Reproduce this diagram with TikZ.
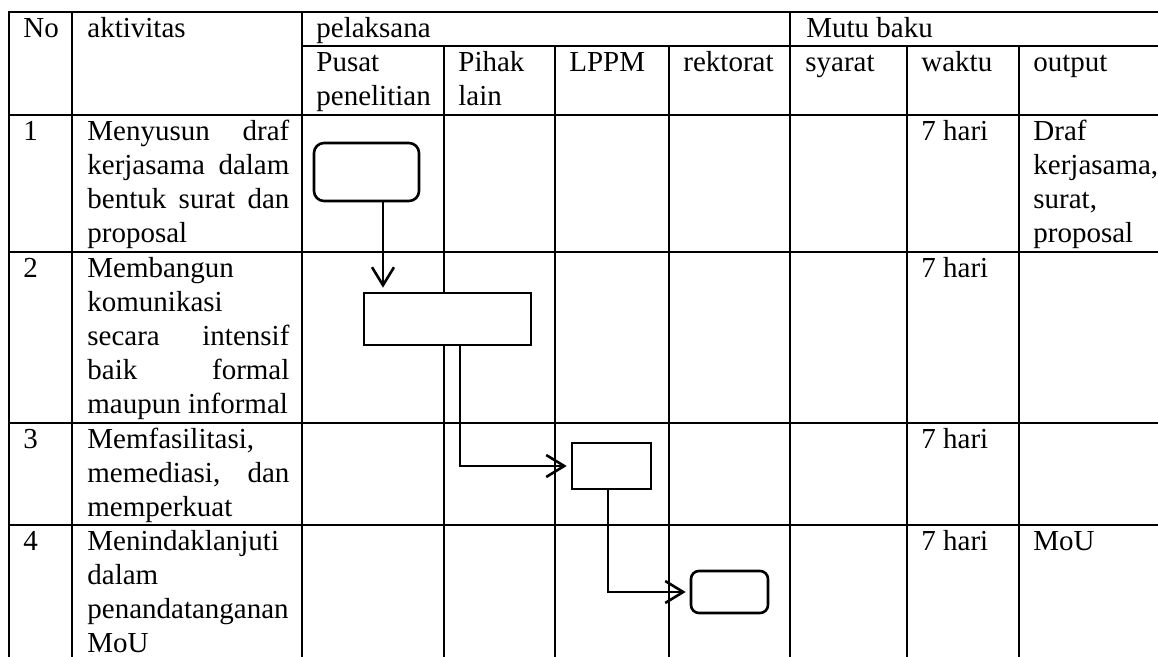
\documentclass[tikz,border=0pt]{standalone}
\usepackage{fontspec}
\setmainfont{Liberation Serif}
\usetikzlibrary{arrows.meta}
\newcommand\ml[1]{\vtop{\baselineskip=17pt\lineskiplimit=-20pt\lineskip=0pt\relax #1}}
\newcommand\jl[1]{\hbox to 101pt{#1}}
\newcommand\nl[1]{\hbox{#1}}
\begin{document}
\begin{tikzpicture}[x=0.5pt,y=-0.5pt,
  grid/.style={line width=1.2pt,line cap=rect},
  txt/.style={anchor=base west,inner sep=0pt,font=\fontsize{14.5}{17}\selectfont},
  flowbox/.style={draw,fill=white,line width=1.3pt,inner sep=0pt},
  arr/.style={line width=1.3pt,-{Straight Barb[length=9pt,width=11pt]},shorten >=2pt}]
\useasboundingbox (0,0) rectangle (1158,657);
\fill[white] (0,0) rectangle (1158,657);
\clip (0,0) rectangle (1158,657);
% grid
\foreach \y in {12,115,252,423,525} \draw[grid] (9,\y) -- (1165,\y);
\draw[grid] (302,46) -- (1165,46);
\foreach \x in {9,72,302,790} \draw[grid] (\x,12) -- (\x,665);
\foreach \x in {444,555,669,907,1019} \draw[grid] (\x,46) -- (\x,665);
% header
\node[txt] (hno) at (23,38) {No};
\node[txt] (hakt) at (87,38) {aktivitas};
\node[txt] (hpel) at (316,38) {pelaksana};
\node[txt] (hmutu) at (806,38) {Mutu baku};
\node[txt] (hpus) at (316,72) {\ml{\nl{Pusat}\nl{penelitian}}};
\node[txt] (hpih) at (458,72) {\ml{\nl{Pihak}\nl{lain}}};
\node[txt] (hlppm) at (569,72) {LPPM};
\node[txt] (hrek) at (683,72) {rektorat};
\node[txt] (hsya) at (805,72) {syarat};
\node[txt] (hwak) at (921,72) {waktu};
\node[txt] (hout) at (1033,72) {output};
% numbers
\node[txt] (n1) at (23,141) {1};
\node[txt] (n2) at (23,278) {2};
\node[txt] (n3) at (23,449) {3};
\node[txt] (n4) at (23,551) {4};
% activities
\node[txt] (a1) at (87,141) {\ml{\jl{Menyusun\hfill draf}\jl{kerjasama\hfill dalam}\jl{bentuk\hfill surat\hfill dan}\nl{proposal}}};
\node[txt] (a2) at (87,278) {\ml{\nl{Membangun}\nl{komunikasi}\jl{secara\hfill intensif}\jl{baik\hfill formal}\nl{maupun informal}}};
\node[txt] (a3) at (87,449) {\ml{\nl{Memfasilitasi,}\jl{memediasi,\hfill dan}\nl{memperkuat}}};
\node[txt] (a4) at (87,551) {\ml{\nl{Menindaklanjuti}\nl{dalam}\nl{penandatanganan}\nl{MoU}}};
% waktu
\node[txt] (w1) at (921,141) {7 hari};
\node[txt] (w2) at (921,278) {7 hari};
\node[txt] (w3) at (921,449) {7 hari};
\node[txt] (w4) at (921,551) {7 hari};
% output
\node[txt] (o1) at (1033,141) {\ml{\nl{Draf}\nl{kerjasama,}\nl{surat,}\nl{proposal}}};
\node[txt] (o4) at (1033,551) {MoU};
% flow shapes
\node[flowbox,rounded corners=5pt,minimum width=52.5pt,minimum height=29pt] (r1) at (366.5,172) {};
\node[flowbox,minimum width=83.5pt,minimum height=26pt] (r2) at (447.5,319) {};
\node[flowbox,minimum width=39.5pt,minimum height=23pt] (r3) at (611.5,466) {};
\node[flowbox,rounded corners=4pt,minimum width=38.5pt,minimum height=21pt] (r4) at (729.5,592) {};
\coordinate (k1) at (383,0);
\coordinate (k2) at (460,0);
\coordinate (k3) at (608,0);
\draw[arr] (r1.south -| k1) -- (r2.north -| k1);
\draw[arr] (r2.south -| k2) |- (r3.west);
\draw[arr] (r3.south -| k3) |- (r4.west);
\end{tikzpicture}
\end{document}
